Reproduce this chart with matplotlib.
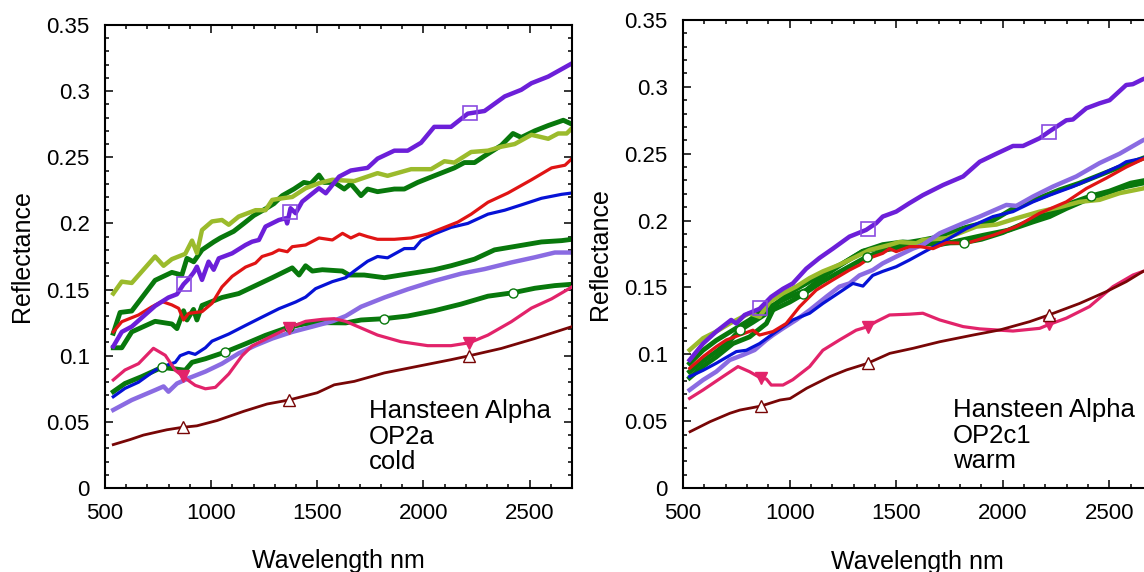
import numpy as np
import matplotlib
matplotlib.use('Agg')
import matplotlib.pyplot as plt
from matplotlib.ticker import MultipleLocator, FuncFormatter

plt.rcParams['font.family'] = ['Liberation Sans', 'DejaVu Sans']

# ---------------- left panel: OP2a cold ----------------
a_violet_x = [539, 579, 626, 736, 799, 839, 870, 894, 918, 933, 957, 988, 1012, 1036, 1099, 1162, 1193, 1225, 1256,
              1319, 1351, 1358, 1374, 1398, 1429, 1508, 1540, 1603, 1658, 1737, 1784, 1863, 1926, 1989, 2051, 2130,
              2209, 2288, 2383, 2461, 2509, 2588, 2700]
a_violet_y = [0.107, 0.118, 0.122, 0.1376, 0.144, 0.1465, 0.154, 0.158, 0.163, 0.1673, 0.1573, 0.1711, 0.165, 0.1736,
              0.1774, 0.1837, 0.1862, 0.1875, 0.1976, 0.2026, 0.2039, 0.200, 0.2115, 0.2077, 0.2165, 0.2266, 0.2228,
              0.2354, 0.240, 0.242, 0.249, 0.255, 0.255, 0.261, 0.273, 0.273, 0.283, 0.285, 0.296, 0.301, 0.306,
              0.311, 0.321]

a_ygreen_x = [539, 579, 626, 736, 776, 815, 878, 910, 933, 957, 1004, 1051, 1083, 1130, 1209, 1256, 1288, 1335, 1382,
              1445, 1508, 1571, 1674, 1784, 1831, 1942, 2036, 2099, 2146, 2225, 2304, 2367, 2430, 2509, 2588, 2635,
              2675, 2700]
a_ygreen_y = [0.147, 0.156, 0.155, 0.175, 0.168, 0.173, 0.177, 0.187, 0.1776, 0.195, 0.2015, 0.2026, 0.199, 0.2052,
              0.210, 0.210, 0.2178, 0.219, 0.220, 0.2266, 0.2304, 0.233, 0.232, 0.238, 0.236, 0.241, 0.241, 0.247,
              0.246, 0.254, 0.255, 0.258, 0.260, 0.267, 0.264, 0.268, 0.268, 0.272]

a_green1_x = [539, 571, 626, 736, 815, 862, 886, 918, 957, 1012, 1043, 1106, 1154, 1201, 1256, 1296, 1335, 1390, 1437,
              1469, 1508, 1532, 1580, 1627, 1658, 1706, 1737, 1784, 1863, 1910, 1973, 2051, 2146, 2193, 2241, 2288,
              2367, 2422, 2461, 2525, 2588, 2659, 2700]
a_green1_y = [0.117, 0.1327, 0.1338, 0.157, 0.163, 0.161, 0.1736, 0.171, 0.180, 0.186, 0.189, 0.194, 0.200, 0.206,
              0.211, 0.215, 0.221, 0.226, 0.231, 0.230, 0.2366, 0.231, 0.231, 0.226, 0.230, 0.221, 0.226, 0.224,
              0.226, 0.226, 0.231, 0.236, 0.242, 0.246, 0.246, 0.251, 0.259, 0.268, 0.265, 0.270, 0.274, 0.278, 0.275]

a_red_x = [539, 579, 658, 721, 768, 815, 847, 870, 894, 957, 1004, 1051, 1099, 1162, 1209, 1240, 1288, 1319, 1359,
           1382, 1445, 1508, 1571, 1619, 1658, 1698, 1737, 1784, 1863, 1942, 2020, 2099, 2162, 2225, 2304, 2398,
           2509, 2604, 2667, 2700]
a_red_y = [0.118, 0.1257, 0.1308, 0.137, 0.141, 0.1384, 0.1358, 0.127, 0.132, 0.1333, 0.1396, 0.152, 0.160, 0.167,
           0.170, 0.175, 0.1774, 0.180, 0.1786, 0.1824, 0.1837, 0.189, 0.1875, 0.1925, 0.189, 0.192, 0.190, 0.188,
           0.188, 0.189, 0.192, 0.197, 0.201, 0.207, 0.216, 0.223, 0.233, 0.242, 0.244, 0.249]

a_green2_x = [539, 579, 626, 736, 815, 839, 870, 886, 917, 933, 957, 1051, 1130, 1209, 1288, 1382, 1414, 1445, 1477,
              1524, 1618, 1650, 1721, 1816, 1894, 1973, 2051, 2130, 2241, 2335, 2446, 2556, 2651, 2700]
a_green2_y = [0.106, 0.106, 0.118, 0.126, 0.124, 0.1205, 0.134, 0.127, 0.135, 0.127, 0.138, 0.144, 0.147, 0.153,
              0.159, 0.1664, 0.161, 0.168, 0.164, 0.165, 0.164, 0.161, 0.161, 0.159, 0.161, 0.163, 0.165, 0.168,
              0.173, 0.180, 0.183, 0.186, 0.187, 0.188]

a_blue_x = [539, 594, 658, 736, 768, 831, 854, 894, 925, 973, 1004, 1083, 1162, 1240, 1319, 1398, 1445, 1492, 1571,
            1634, 1674, 1737, 1784, 1831, 1910, 1957, 1989, 2051, 2130, 2209, 2304, 2383, 2461, 2556, 2651, 2700]
a_blue_y = [0.069, 0.0753, 0.080, 0.089, 0.0915, 0.095, 0.100, 0.1025, 0.101, 0.106, 0.111, 0.1164, 0.1229, 0.1292,
            0.1355, 0.1406, 0.1443, 0.1507, 0.156, 0.159, 0.164, 0.1714, 0.175, 0.174, 0.181, 0.181, 0.187, 0.192,
            0.197, 0.200, 0.207, 0.210, 0.214, 0.219, 0.222, 0.223]

a_green3_x = [539, 594, 673, 768, 831, 878, 910, 973, 1067, 1162, 1256, 1366, 1445, 1524, 1634, 1706, 1816, 1926,
              2051, 2177, 2304, 2422, 2525, 2619, 2700]
a_green3_y = [0.0728, 0.079, 0.0842, 0.0912, 0.090, 0.089, 0.095, 0.0977, 0.1028, 0.109, 0.1154, 0.1216, 0.1242,
              0.125, 0.1248, 0.127, 0.128, 0.130, 0.134, 0.139, 0.145, 0.1476, 0.151, 0.153, 0.154]

a_mpurple_x = [539, 626, 736, 776, 799, 839, 894, 973, 1051, 1130, 1209, 1288, 1382, 1477, 1571, 1634, 1706, 1816,
               1926, 2051, 2177, 2288, 2414, 2525, 2619, 2700]
a_mpurple_y = [0.059, 0.0665, 0.074, 0.0768, 0.0728, 0.079, 0.083, 0.088, 0.094, 0.1018, 0.1078, 0.113, 0.118, 0.122,
               0.126, 0.130, 0.137, 0.144, 0.1502, 0.1565, 0.162, 0.1655, 0.1705, 0.1744, 0.178, 0.178]

a_pink_x = [539, 594, 658, 728, 784, 831, 878, 925, 973, 1020, 1083, 1146, 1193, 1288, 1366, 1445, 1524, 1580, 1634,
            1674, 1784, 1894, 2020, 2130, 2217, 2304, 2414, 2509, 2604, 2700]
a_pink_y = [0.0817, 0.0892, 0.094, 0.1056, 0.1003, 0.089, 0.083, 0.0776, 0.075, 0.0761, 0.0862, 0.100, 0.1074, 0.115,
            0.121, 0.126, 0.1275, 0.128, 0.126, 0.1232, 0.1156, 0.1106, 0.1076, 0.1076, 0.1098, 0.1156, 0.1257,
            0.136, 0.143, 0.152]

a_maroon_x = [539, 618, 681, 791, 862, 933, 1028, 1154, 1264, 1366, 1500, 1580, 1674, 1816, 1973, 2130, 2217, 2367,
              2525, 2700]
a_maroon_y = [0.0328, 0.0366, 0.040, 0.044, 0.0458, 0.047, 0.051, 0.058, 0.0635, 0.0665, 0.072, 0.078, 0.0806, 0.087,
              0.092, 0.097, 0.100, 0.1055, 0.113, 0.122]

# ---------------- right panel: OP2c1 warm ----------------
b_violet_x = [531, 594, 656, 726, 750, 789, 859, 914, 969, 1015, 1078, 1140, 1203, 1281, 1359, 1406, 1437, 1500, 1562,
              1625, 1720, 1814, 1892, 1970, 2048, 2095, 2173, 2217, 2298, 2329, 2392, 2454, 2501, 2579, 2610, 2657,
              2700]
b_violet_y = [0.0957, 0.108, 0.117, 0.1257, 0.123, 0.1294, 0.134, 0.143, 0.149, 0.153, 0.164, 0.172, 0.179, 0.188,
              0.193, 0.198, 0.203, 0.2067, 0.213, 0.219, 0.2266, 0.233, 0.244, 0.250, 0.2558, 0.2558, 0.2616, 0.2665,
              0.275, 0.2756, 0.284, 0.2877, 0.290, 0.3014, 0.302, 0.3057, 0.308]

b_ygreen_x = [531, 594, 656, 719, 812, 859, 906, 969, 1031, 1094, 1156, 1234, 1312, 1375, 1469, 1515, 1594, 1625, 1736,
              1876, 1970, 2064, 2173, 2267, 2360, 2454, 2548, 2657, 2700]
b_ygreen_y = [0.1032, 0.112, 0.117, 0.123, 0.1307, 0.128, 0.139, 0.1456, 0.1506, 0.157, 0.162, 0.167, 0.173, 0.178,
              0.1818, 0.184, 0.183, 0.1855, 0.1868, 0.1955, 0.197, 0.2017, 0.2067, 0.210, 0.214, 0.2155, 0.2205,
              0.224, 0.226]

b_green1_x = [531, 594, 656, 734, 812, 875, 937, 1000, 1078, 1156, 1250, 1343, 1437, 1531, 1625, 1673, 1829, 1954,
              2064, 2173, 2267, 2360, 2454, 2548, 2657, 2700]
b_green1_y = [0.0932, 0.103, 0.1104, 0.118, 0.1256, 0.133, 0.138, 0.146, 0.153, 0.1605, 0.168, 0.177, 0.180, 0.183,
              0.1855, 0.187, 0.195, 0.200, 0.2105, 0.217, 0.223, 0.228, 0.234, 0.240, 0.2466, 0.249]

b_red_x = [531, 594, 656, 703, 766, 828, 859, 922, 984, 1047, 1125, 1203, 1281, 1328, 1375, 1437, 1469, 1500, 1562,
           1611, 1673, 1736, 1829, 1954, 2064, 2173, 2298, 2392, 2485, 2579, 2657, 2700]
b_red_y = [0.0895, 0.0982, 0.1057, 0.1107, 0.1144, 0.118, 0.1144, 0.117, 0.123, 0.1356, 0.148, 0.1556, 0.163, 0.1668,
           0.172, 0.1755, 0.179, 0.1768, 0.1805, 0.1805, 0.179, 0.1835, 0.183, 0.189, 0.1955, 0.2055, 0.214, 0.224,
           0.2317, 0.240, 0.2459, 0.249]

b_green2_x = [531, 594, 656, 734, 812, 891, 937, 1000, 1078, 1156, 1250, 1343, 1437, 1531, 1625, 1704, 1767, 1908,
              2032, 2142, 2220, 2298, 2392, 2485, 2579, 2657, 2700]
b_green2_y = [0.0824, 0.091, 0.098, 0.108, 0.113, 0.123, 0.138, 0.143, 0.148, 0.158, 0.168, 0.177, 0.182, 0.184,
              0.183, 0.182, 0.184, 0.189, 0.193, 0.199, 0.203, 0.209, 0.2155, 0.2205, 0.2254, 0.228, 0.229]

b_blue_x = [531, 594, 656, 750, 797, 859, 937, 1015, 1094, 1156, 1203, 1250, 1297, 1344, 1390, 1437, 1500, 1562, 1625,
            1736, 1829, 1954, 2048, 2142, 2220, 2329, 2454, 2548, 2579, 2657, 2700]
b_blue_y = [0.0833, 0.088, 0.0933, 0.102, 0.103, 0.108, 0.117, 0.1257, 0.1307, 0.138, 0.143, 0.148, 0.153, 0.151,
            0.159, 0.162, 0.1655, 0.1705, 0.176, 0.1855, 0.194, 0.203, 0.2067, 0.214, 0.219, 0.2254, 0.234, 0.241,
            0.244, 0.2466, 0.249]

b_green3_x = [531, 594, 656, 719, 766, 828, 906, 1000, 1065, 1150, 1250, 1364, 1450, 1550, 1650, 1817, 1900, 2000,
              2100, 2200, 2300, 2415, 2500, 2600, 2700]
b_green3_y = [0.087, 0.095, 0.102, 0.110, 0.118, 0.124, 0.132, 0.139, 0.145, 0.154, 0.163, 0.173, 0.178, 0.181,
              0.183, 0.1835, 0.186, 0.191, 0.198, 0.205, 0.212, 0.2185, 0.222, 0.228, 0.231]

b_mpurple_x = [531, 594, 656, 719, 781, 836, 891, 922, 969, 1031, 1094, 1172, 1234, 1281, 1328, 1390, 1437, 1500,
               1578, 1625, 1704, 1814, 1892, 2017, 2064, 2142, 2235, 2345, 2454, 2548, 2657, 2700]
b_mpurple_y = [0.0733, 0.0808, 0.087, 0.0957, 0.0995, 0.1032, 0.1107, 0.1144, 0.1194, 0.1257, 0.133, 0.143, 0.1506,
               0.153, 0.159, 0.163, 0.168, 0.173, 0.179, 0.1818, 0.1905, 0.198, 0.203, 0.2117, 0.211, 0.218, 0.2254,
               0.233, 0.243, 0.250, 0.260, 0.263]

b_pink_x = [531, 594, 687, 758, 812, 867, 891, 914, 969, 1015, 1094, 1156, 1234, 1312, 1367, 1406, 1469, 1562, 1625,
            1704, 1814, 1892, 2048, 2173, 2217, 2298, 2407, 2517, 2611, 2658, 2700]
b_pink_y = [0.067, 0.0733, 0.0833, 0.0908, 0.087, 0.082, 0.0815, 0.077, 0.077, 0.081, 0.0908, 0.103, 0.1107, 0.118,
            0.1207, 0.1244, 0.1294, 0.130, 0.1307, 0.1257, 0.1207, 0.119, 0.1174, 0.1194, 0.1223, 0.127, 0.1357,
            0.1506, 0.1593, 0.162, 0.164]

b_maroon_x = [533, 627, 720, 767, 866, 955, 1002, 1080, 1189, 1267, 1365, 1470, 1580, 1705, 1861, 1986, 2126, 2216,
              2360, 2485, 2579, 2658, 2700]
b_maroon_y = [0.0421, 0.0496, 0.0559, 0.0583, 0.0613, 0.0658, 0.0669, 0.0746, 0.0833, 0.0883, 0.0932, 0.1007,
              0.1045, 0.1094, 0.1144, 0.1182, 0.1244, 0.1294, 0.138, 0.1468, 0.1543, 0.162, 0.164]

# wavelengths where the symbols sit on the curves
a_square_at = [870, 1370, 2220]
a_circle_at = [768, 1067, 1366, 1816, 2422]
a_tri_at = [866, 1366, 2217]
b_square_at = [861, 1369, 2216]
b_circle_at = [766, 1065, 1364, 1817, 2415]
b_tri_at = [866, 1366, 2217]

panel_notes = ['Hansteen Alpha\nOP2a\ncold', 'Hansteen Alpha\nOP2c1\nwarm']

VIOLET = '#6c1fd9'
YGREEN = '#9bbb2c'
GREEN = '#08780c'
RED = '#e01414'
BLUE = '#0612d6'
MPURPLE = '#8a6be2'
PINK = '#e2236a'
MAROON = '#780606'


def draw_panel(ax, d, sq_at, ci_at, tri_at, note, note_x):
    # greens underneath, thin coloured lines on top
    ax.plot(d['green1'][0], d['green1'][1], color=GREEN, lw=3.5, zorder=2)
    ax.plot(d['green2'][0], d['green2'][1], color=GREEN, lw=3.5, zorder=2)
    ax.plot(d['green3'][0], d['green3'][1], color=GREEN, lw=3.5, zorder=2)
    ax.plot(d['ygreen'][0], d['ygreen'][1], color=YGREEN, lw=3.2, zorder=2.1)
    ax.plot(d['mpurple'][0], d['mpurple'][1], color=MPURPLE, lw=3.2, zorder=2.2)
    ax.plot(d['blue'][0], d['blue'][1], color=BLUE, lw=2.3, zorder=2.3)
    ax.plot(d['red'][0], d['red'][1], color=RED, lw=2.3, zorder=2.4)
    ax.plot(d['violet'][0], d['violet'][1], color=VIOLET, lw=3.2, zorder=2.5)
    ax.plot(d['pink'][0], d['pink'][1], color=PINK, lw=2.3, zorder=2.6)
    ax.plot(d['maroon'][0], d['maroon'][1], color=MAROON, lw=2.0, zorder=2.6)

    # symbols
    vx, vy = d['violet']
    ax.plot(sq_at, np.interp(sq_at, vx, vy), ls='none', marker='s', ms=10, mfc='none',
            mec='#8a4be0', mew=1.2, zorder=3)
    gx, gy = d['green3']
    ax.plot(ci_at, np.interp(ci_at, gx, gy), ls='none', marker='o', ms=6.5, mfc='white',
            mec=GREEN, mew=1.0, zorder=3)
    px, py = d['pink']
    ax.plot(tri_at, np.interp(tri_at, px, py), ls='none', marker='v', ms=8, color=PINK, zorder=3)
    mx, my = d['maroon']
    ax.plot(tri_at, np.interp(tri_at, mx, my), ls='none', marker='^', ms=9, mfc='white',
            mec=MAROON, mew=1.0, zorder=3)

    ax.text(note_x, 0.067, note, fontsize=18.5, ha='left', va='top', linespacing=1.08)

    ax.set_xlim(500, 2700)
    ax.set_ylim(0, 0.35)
    ax.xaxis.set_major_locator(MultipleLocator(500))
    ax.xaxis.set_minor_locator(MultipleLocator(100))
    ax.yaxis.set_major_locator(MultipleLocator(0.05))
    ax.yaxis.set_minor_locator(MultipleLocator(0.01))
    ax.yaxis.set_major_formatter(FuncFormatter(lambda v, p: '%g' % round(v, 2)))
    ax.tick_params(which='both', direction='in', top=True, right=True, width=1.1, labelsize=16)
    ax.tick_params(which='major', length=5.8)
    ax.tick_params(which='minor', length=2.9)
    ax.tick_params(axis='x', pad=11)
    ax.tick_params(axis='y', pad=11)
    for s in ax.spines.values():
        s.set_linewidth(1.5)

    ax.set_xlabel('Wavelength nm', fontsize=18)
    ax.set_ylabel('Reflectance', fontsize=18)
    ax.xaxis.set_label_coords(0.5, -0.158)
    ax.xaxis.label.set_va('center')
    ax.yaxis.set_label_coords(-0.177, 0.5)
    ax.yaxis.label.set_va('center')


left = {'violet': (a_violet_x, a_violet_y), 'ygreen': (a_ygreen_x, a_ygreen_y),
        'green1': (a_green1_x, a_green1_y), 'red': (a_red_x, a_red_y),
        'green2': (a_green2_x, a_green2_y), 'blue': (a_blue_x, a_blue_y),
        'green3': (a_green3_x, a_green3_y), 'mpurple': (a_mpurple_x, a_mpurple_y),
        'pink': (a_pink_x, a_pink_y), 'maroon': (a_maroon_x, a_maroon_y)}
right = {'violet': (b_violet_x, b_violet_y), 'ygreen': (b_ygreen_x, b_ygreen_y),
         'green1': (b_green1_x, b_green1_y), 'red': (b_red_x, b_red_y),
         'green2': (b_green2_x, b_green2_y), 'blue': (b_blue_x, b_blue_y),
         'green3': (b_green3_x, b_green3_y), 'mpurple': (b_mpurple_x, b_mpurple_y),
         'pink': (b_pink_x, b_pink_y), 'maroon': (b_maroon_x, b_maroon_y)}

fig = plt.figure(figsize=(11.44, 5.72), dpi=100)
ax1 = fig.add_axes([105 / 1144, 84 / 572, 467 / 1144, 463 / 572])
ax2 = fig.add_axes([683 / 1144, 84 / 572, 469 / 1144, 468 / 572])

draw_panel(ax1, left, a_square_at, a_circle_at, a_tri_at, panel_notes[0], 1743)
draw_panel(ax2, right, b_square_at, b_circle_at, b_tri_at, panel_notes[1], 1765)

fig.savefig('out.png', dpi=100)
